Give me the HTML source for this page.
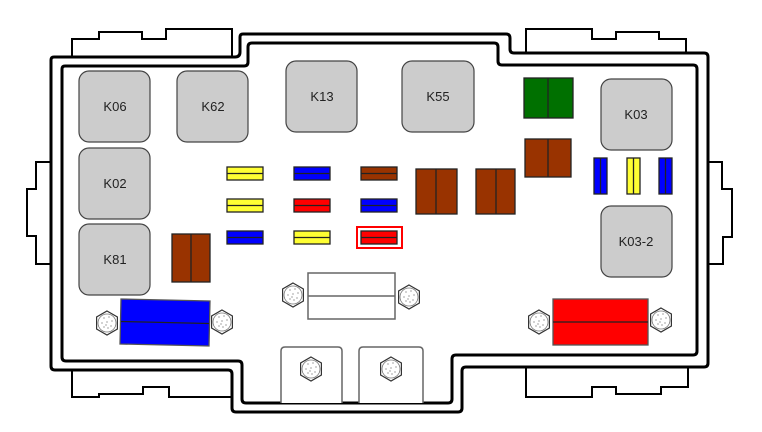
<!DOCTYPE html>
<html><head><meta charset="utf-8"><style>
html,body{margin:0;padding:0;background:#fff;}
svg{display:block;}
text{font-family:"Liberation Sans",sans-serif;font-size:13px;fill:#222;}
</style></head><body>
<svg width="762" height="432" viewBox="0 0 762 432" xmlns="http://www.w3.org/2000/svg">
<defs>
<g id="nut">
<polygon points="0,-12 10.4,-6 10.4,6 0,12 -10.4,6 -10.4,-6" fill="#fff" stroke="#333" stroke-width="1.2"/>
<circle r="9" fill="#fff" stroke="#777" stroke-width="0.8"/>
<g fill="#666">
<circle cx="-3" cy="-5" r="0.6"/><circle cx="2" cy="-6" r="0.6"/><circle cx="5" cy="-2" r="0.6"/>
<circle cx="-5" cy="0" r="0.6"/><circle cx="0" cy="-1" r="0.6"/><circle cx="4" cy="3" r="0.6"/>
<circle cx="-3" cy="4" r="0.6"/><circle cx="1" cy="5" r="0.6"/><circle cx="-1" cy="2" r="0.6"/>
</g>
</g>
</defs>
<g fill="none" stroke="#000" stroke-width="2">
<polyline points="72,57 72,39 99,39 99,32 142,32 142,39 166,39 166,29 232,29 232,57"/>
<polyline points="526,53 526,29 592,29 592,39 616,39 616,32 659,32 659,39 686,39 686,53"/>
<polyline points="51,162 36,162 36,189 27,189 27,236 36,236 36,264 51,264"/>
<polyline points="708,162 722,162 722,189 732,189 732,237 723,237 723,264 708,264"/>
<polyline points="72,370 72,397 99,397 99,394 143,394 143,387 169,387 169,397 232,397"/>
<polyline points="526,367 526,397 592,397 592,387 616,387 616,394 661,394 661,387 688,387 688,367"/>
</g>
<g fill="none" stroke="#000" stroke-width="3" stroke-linejoin="round">
<path d="M51,60 Q51,57 54,57 L235,57 Q240,57 240,52 L240,37 Q240,34 243,34 L506,34 Q510,34 510,38 L510,49 Q510,53 514,53 L704,53 Q708,53 708,57 L708,363 Q708,367 704,367 L466,367 Q462,367 462,371 L462,408 Q462,412 458,412 L236,412 Q232,412 232,408 L232,374 Q232,370 228,370 L55,370 Q51,370 51,366 Z"/>
<path d="M62,69 Q62,66 65,66 L244,66 Q248,66 248,62 L248,47 Q248,43 252,43 L494,43 Q498,43 498,47 L498,61 Q498,65 502,65 L693,65 Q697,65 697,69 L697,351 Q697,355 693,355 L456,355 Q452,355 452,359 L452,399 Q452,403 448,403 L246,403 Q242,403 242,399 L242,365 Q242,361 238,361 L66,361 Q62,361 62,357 Z"/>
</g>
<g fill="#fff" stroke="#666" stroke-width="1.5">
<path d="M281,403 L281,351 Q281,347 285,347 L338,347 Q342,347 342,351 L342,403"/>
<path d="M359,403 L359,351 Q359,347 363,347 L419,347 Q423,347 423,351 L423,403"/>
</g>
<g fill="#ccc" stroke="#444" stroke-width="1.2">
<rect x="79" y="71" width="71" height="71" rx="10"/>
<rect x="177" y="71" width="71" height="71" rx="10"/>
<rect x="286" y="61" width="71" height="71" rx="10"/>
<rect x="402" y="61" width="72" height="71" rx="10"/>
<rect x="601" y="79" width="71" height="71" rx="10"/>
<rect x="79" y="148" width="71" height="71" rx="10"/>
<rect x="79" y="224" width="71" height="71" rx="10"/>
<rect x="601" y="206" width="71" height="71" rx="10"/>
</g>
<text x="115" y="111" text-anchor="middle">K06</text>
<text x="213" y="111" text-anchor="middle">K62</text>
<text x="322" y="101" text-anchor="middle">K13</text>
<text x="438" y="101" text-anchor="middle">K55</text>
<text x="636" y="119" text-anchor="middle">K03</text>
<text x="115" y="188" text-anchor="middle">K02</text>
<text x="115" y="264" text-anchor="middle">K81</text>
<text x="636" y="246" text-anchor="middle">K03-2</text>
<g stroke="#222" stroke-width="1.3">
<rect x="524" y="78" width="49" height="40" fill="#007000"/><line x1="548" y1="78" x2="548" y2="118"/>
<rect x="525" y="139" width="46" height="38" fill="#993300"/><line x1="548" y1="139" x2="548" y2="177"/>
<rect x="416" y="169" width="41" height="45" fill="#993300"/><line x1="436" y1="169" x2="436" y2="214"/>
<rect x="476" y="169" width="39" height="45" fill="#993300"/><line x1="496" y1="169" x2="496" y2="214"/>
<rect x="172" y="234" width="38" height="48" fill="#993300"/><line x1="191" y1="234" x2="191" y2="282"/>
<rect x="594" y="158" width="13" height="36" fill="#0000ff"/><line x1="600.5" y1="158" x2="600.5" y2="194"/>
<rect x="627" y="158" width="13" height="36" fill="#ffff33"/><line x1="633.5" y1="158" x2="633.5" y2="194"/>
<rect x="659" y="158" width="13" height="36" fill="#0000ff"/><line x1="665.5" y1="158" x2="665.5" y2="194"/>
<rect x="227" y="167" width="36" height="13" fill="#ffff33"/><line x1="227" y1="173.5" x2="263" y2="173.5"/>
<rect x="294" y="167" width="36" height="13" fill="#0000ff"/><line x1="294" y1="173.5" x2="330" y2="173.5"/>
<rect x="361" y="167" width="36" height="13" fill="#993300"/><line x1="361" y1="173.5" x2="397" y2="173.5"/>
<rect x="227" y="199" width="36" height="13" fill="#ffff33"/><line x1="227" y1="205.5" x2="263" y2="205.5"/>
<rect x="294" y="199" width="36" height="13" fill="#ff0000"/><line x1="294" y1="205.5" x2="330" y2="205.5"/>
<rect x="361" y="199" width="36" height="13" fill="#0000ff"/><line x1="361" y1="205.5" x2="397" y2="205.5"/>
<rect x="227" y="231" width="36" height="13" fill="#0000ff"/><line x1="227" y1="237.5" x2="263" y2="237.5"/>
<rect x="294" y="231" width="36" height="13" fill="#ffff33"/><line x1="294" y1="237.5" x2="330" y2="237.5"/>
<rect x="361" y="231" width="36" height="13" fill="#ff0000"/><line x1="361" y1="237.5" x2="397" y2="237.5"/>
<polygon points="121,299 210,301 209,346 120,344" fill="#0000ff" stroke="#555"/>
<line x1="121" y1="321.5" x2="209" y2="323.5"/>
<rect x="553" y="299" width="95" height="46" fill="#ff0000" stroke="#555"/><line x1="553" y1="322" x2="648" y2="322"/>
</g>
<rect x="357" y="227" width="45" height="21" fill="none" stroke="#ff0000" stroke-width="2"/>
<rect x="308" y="273" width="87" height="46" fill="#fff" stroke="#666" stroke-width="1.5"/>
<line x1="308" y1="296" x2="395" y2="296" stroke="#666" stroke-width="1.5"/>
<use href="#nut" x="107" y="323"/>
<use href="#nut" x="222" y="322"/>
<use href="#nut" x="293" y="295"/>
<use href="#nut" x="409" y="297"/>
<use href="#nut" x="539" y="322"/>
<use href="#nut" x="661" y="320"/>
<use href="#nut" x="311" y="369"/>
<use href="#nut" x="391" y="369"/>
</svg>
</body></html>
